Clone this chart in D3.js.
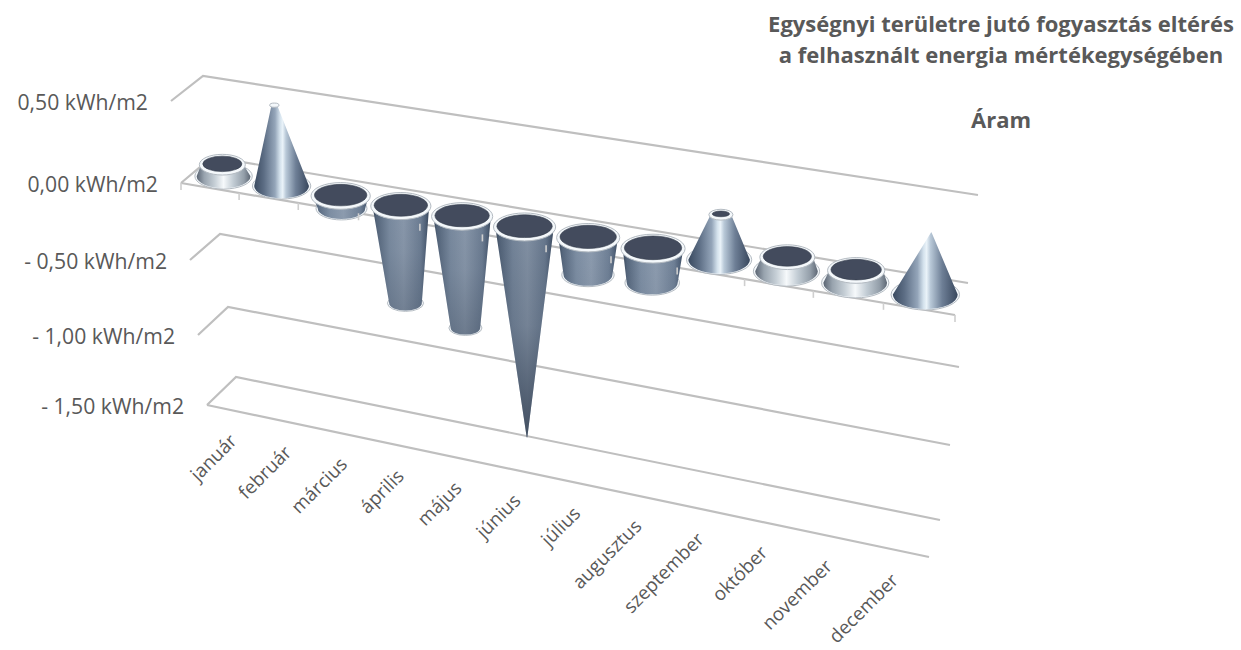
<!DOCTYPE html>
<html lang="hu">
<head>
<meta charset="utf-8">
<title>Áram – fogyasztás eltérés</title>
<script src="https://cdn.jsdelivr.net/npm/d3@7/dist/d3.min.js"></script>
<style>
  html, body { margin: 0; padding: 0; background: #fff; }
  svg { display: block; }
  text { font-family: "Open Sans", Lato, sans-serif; fill: #595959; }
</style>
</head>
<body>
<div id="chart"></div>
<script>
// Monthly deviation values and the labels drawn around the 3D floor
const months = ["január", "február", "március", "április", "május", "június",
                "július", "augusztus", "szeptember", "október", "november", "december"];
const deviation = [0.07, 0.49, -0.08, -0.62, -0.71, -1.37, -0.23, -0.21, 0.26, 0.08, 0.07, 0.35];
// How far each cone narrows at its value end (1 = no taper, 0 = sharp tip)
const taper = [0.8, 0.16, 0.86, 0.6, 0.54, 0, 0.83, 0.85, 0.37, 0.83, 0.85, 0];
const levels = [0.5, 0, -0.5, -1, -1.5];
const levelLabels = ["0,50 kWh/m2", "0,00 kWh/m2", "- 0,50 kWh/m2", "- 1,00 kWh/m2", "- 1,50 kWh/m2"];
const titleLines = ["Egységnyi területre jutó fogyasztás eltérés",
                    "a felhasznált energia mértékegységében"];
const seriesName = "Áram";

const W = 1241, H = 650;
const svg = d3.select("#chart").append("svg").attr("width", W).attr("height", H);

// Corners of the floor, each tracked through the value levels
const corner = (xs, ys) => ({
  x: d3.scaleLinear().domain(levels).range(xs),
  y: d3.scaleLinear().domain(levels).range(ys)
});
const frontLeft  = corner([171, 181, 190, 198, 207], [101, 183, 260, 335, 405]);
const backLeft   = corner([203, 212, 220, 228, 236], [76, 157, 234, 307, 377]);
const frontRight = corner([964, 955, 946, 937, 929], [225, 315, 400, 481, 557]);
const backRight  = corner([978, 968, 959, 950, 940], [195, 283, 367, 445, 520]);

// Along-axis foreshortening: months get wider towards the viewer
const persp = 1.12;
const along = i => { const t = i / months.length; return t / (persp + (1 - persp) * t); };

// Bilinear projection: f = along the axis, depth = 0 front .. 1 back, v = value
function project(f, depth, v) {
  const lerp = (a, b, k) => a + (b - a) * k;
  const lx = lerp(frontLeft.x(v), backLeft.x(v), depth), ly = lerp(frontLeft.y(v), backLeft.y(v), depth);
  const rx = lerp(frontRight.x(v), backRight.x(v), depth), ry = lerp(frontRight.y(v), backRight.y(v), depth);
  return [lerp(lx, rx, f), lerp(ly, ry, f)];
}

const defs = svg.append("defs");
function hGradient(id, stops) {
  const g = defs.append("linearGradient").attr("id", id);
  stops.forEach(([o, c]) => g.append("stop").attr("offset", o).attr("stop-color", c));
}
hGradient("steelTall", [[0, "#3a4a60"], [0.18, "#5d6e85"], [0.38, "#94a5b9"], [0.47, "#d3e1ec"],
                        [0.52, "#eaf3f9"], [0.58, "#b9c9d8"], [0.76, "#6e7f96"], [1, "#38475d"]]);
hGradient("steelShort", [[0, "#5a6472"], [0.14, "#98a3ae"], [0.34, "#c7d0d7"], [0.5, "#f6f9fb"],
                         [0.68, "#c2ccd4"], [0.88, "#939ea9"], [1, "#5d6774"]]);
hGradient("steelDown", [[0, "#364559"], [0.07, "#56677d"], [0.3, "#7d8ea3"], [0.55, "#8d9caf"],
                        [0.85, "#6f8096"], [0.94, "#52637a"], [1, "#364559"]]);
const shade = defs.append("linearGradient").attr("id", "depthShade").attr("x1", 0).attr("x2", 0).attr("y1", 0).attr("y2", 1);
shade.append("stop").attr("offset", 0).attr("stop-color", "#2a3648").attr("stop-opacity", 0.1);
shade.append("stop").attr("offset", 0.5).attr("stop-color", "#2a3648").attr("stop-opacity", 0.25);
shade.append("stop").attr("offset", 1).attr("stop-color", "#2a3648").attr("stop-opacity", 0.75);

// Value planes: left side and back edge of every level
const gridLine = d3.line();
const gridColor = "#bfbfbf";
const planes = svg.append("g").attr("fill", "none").attr("stroke", gridColor)
  .attr("stroke-width", 2.2).attr("stroke-linejoin", "miter");
planes.selectAll("path.plane").data(levels).join("path").attr("class", "plane")
  .attr("d", v => gridLine([project(0, 0, v), project(0, 1, v), project(1, 1, v)]));

// Front edges exist only on the zero plane and the lowest plane
planes.selectAll("path.front").data([0, -1.5]).join("path").attr("class", "front")
  .attr("d", v => gridLine([project(0, 0, v), project(1, 0, v)]));

// Value labels, right-aligned along the left side of the planes
svg.append("g").selectAll("text").data(levels).join("text")
  .attr("x", v => frontLeft.x(v) - 23)
  .attr("y", v => frontLeft.y(v) + 8.5)
  .attr("text-anchor", "end").attr("font-size", 21.2)
  .text((v, i) => levelLabels[i]);

const ticks = d3.range(months.length + 1);
const drawTicks = g => g.selectAll("line").data(ticks).join("line")
  .attr("x1", i => project(along(i), 0, 0)[0]).attr("y1", i => project(along(i), 0, 0)[1])
  .attr("x2", i => project(along(i), 0, 0)[0]).attr("y2", i => project(along(i), 0, 0)[1] + 7)
  .attr("stroke", "#cfcfcf").attr("stroke-width", 1.6);

const barDepth = 0.45;
const bars = months.map((m, i) => {
  const f = along(i + 0.5);
  const base = project(f, barDepth, 0), end = project(f, barDepth, deviation[i]);
  const rx = 28.5 + 6 * f;
  return { m, i, f, v: deviation[i], base, end, rx, rEnd: rx * taper[i] };
});
const deepest = d3.min(deviation);

const ratio = 0.45;
function ring(g, c, r, withFace) {
  const rr = Math.max(r, 3.4);
  g.append("ellipse").attr("cx", c[0]).attr("cy", c[1]).attr("rx", rr).attr("ry", rr * ratio)
    .attr("fill", "#f4f8fb").attr("stroke", "#b4bbc2").attr("stroke-width", 1);
  if (withFace && r > 6) {
    g.append("ellipse").attr("cx", c[0]).attr("cy", c[1] - 0.8)
      .attr("rx", r - 3.4).attr("ry", Math.max(r * ratio - 2.6, 1.5))
      .attr("fill", "#434b5d").attr("stroke", "#333a49").attr("stroke-width", 0.6);
  }
}
function body(g, d, fill) {
  const [u, l, ru, rl] = d.v > 0
    ? [d.end, d.base, d.rEnd, d.rx]
    : [d.base, d.end, d.rx, d.rEnd];
  const a = Math.max(ru - 1.8, 0.3), b = Math.max(rl - 1.8, 0.3);
  const path = `M${u[0] - a},${u[1]} L${l[0] - b},${l[1]} ` +
    `A${b},${b * ratio} 0 0 0 ${l[0] + b},${l[1]} L${u[0] + a},${u[1]} ` +
    `A${a},${a * ratio} 0 0 0 ${u[0] - a},${u[1]} Z`;
  g.append("path").attr("d", path).attr("fill", fill);
  return path;
}

// Cones hanging below the floor sit behind the front edge ticks;
// the deeper the cone, the darker it gets towards its tip
const below = svg.append("g");
bars.filter(d => d.v < 0).forEach(d => {
  const g = below.append("g");
  if (d.rEnd > 0) ring(g, d.end, d.rEnd, false);
  const p = body(g, d, "url(#steelDown)");
  g.append("path").attr("d", p).attr("fill", "url(#depthShade)")
    .attr("fill-opacity", Math.min(1, Math.abs(d.v / deepest) * 1.1) ** 1.5);
  ring(g, d.base, d.rx, true);
});

svg.append("g").call(drawTicks);

// Cones standing on the floor
const above = svg.append("g");
bars.filter(d => d.v > 0).forEach(d => {
  const g = above.append("g");
  ring(g, d.base, d.rx, false);
  body(g, d, Math.abs(d.v) < 0.15 ? "url(#steelShort)" : "url(#steelTall)");
  if (d.rEnd > 0) ring(g, d.end, d.rEnd, true);
});

// Month labels below the lowest plane, slanted upward
svg.append("g").selectAll("text").data(bars).join("text")
  .attr("text-anchor", "end").attr("font-size", 18.8)
  .attr("transform", d => {
    const p = project(d.f, 0, -1.5);
    return `translate(${p[0] + 4},${p[1] + 31.5}) rotate(-45)`;
  })
  .text(d => d.m);

// Chart heading
const head = svg.append("g").attr("text-anchor", "middle").attr("font-weight", 700).attr("font-size", 22);
head.selectAll("text.line").data(titleLines).join("text").attr("class", "line")
  .attr("x", 1001).attr("y", (d, i) => 32 + i * 31).text(d => d);
head.append("text").attr("x", 1001).attr("y", 128).text(seriesName);
</script>
</body>
</html>
